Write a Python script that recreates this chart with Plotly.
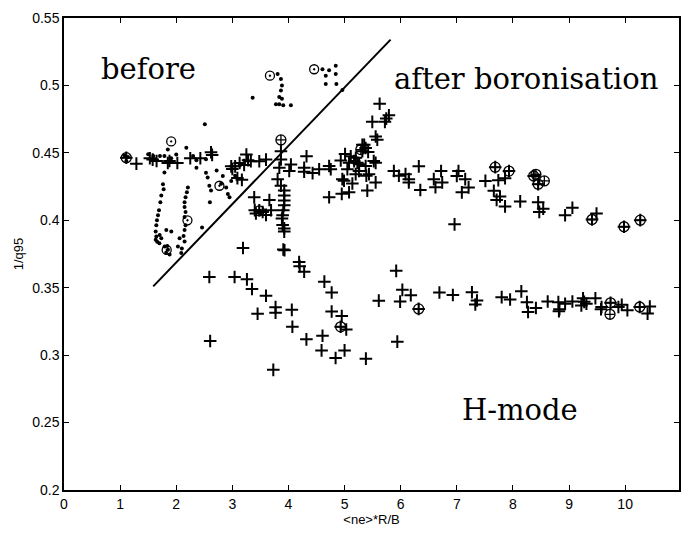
import plotly.graph_objects as go

# ---- data ----
before_x = [1.08, 1.11, 1.14, 1.50, 1.59, 1.71, 1.79, 1.91, 2.00, 2.18, 2.30, 2.36, 2.53, 1.79, 1.85, 2.51,
            1.764, 1.776, 1.734, 1.717, 1.693, 1.675, 1.657, 1.645, 1.634, 1.645, 1.634, 1.705, 1.734, 1.823,
            1.912, 1.793, 1.853, 1.882, 1.82, 1.84, 1.70, 1.66,
            2.208, 2.190, 2.166, 2.149, 2.149, 2.166, 2.149, 2.166, 2.149, 2.131, 2.149, 2.06, 2.03, 2.09, 2.10,
            2.53, 2.56, 2.59, 2.62, 2.83, 2.98, 2.89, 2.92, 2.95, 2.60, 2.46, 2.36, 2.72, 2.80, 3.05,
            3.807, 3.866, 3.884, 3.866, 3.836, 3.884, 3.777, 3.836, 3.907, 4.043, 3.362,
            4.606, 4.724, 4.843, 4.665, 4.843, 4.665, 4.854, 4.961]
before_y = [0.448, 0.444, 0.447, 0.449, 0.4476, 0.4476, 0.4476, 0.446, 0.4488, 0.4537, 0.4476, 0.4445, 0.4452, 0.4355, 0.4525, 0.4712,
            0.4268, 0.4231, 0.4183, 0.4134, 0.4074, 0.4037, 0.4001, 0.3964, 0.3916, 0.3879, 0.3855, 0.3891, 0.3867, 0.3928,
            0.3916, 0.3806, 0.3782, 0.3746, 0.376, 0.381, 0.383, 0.384,
            0.4244, 0.4207, 0.4171, 0.4134, 0.4098, 0.4061, 0.4025, 0.3964, 0.3928, 0.3884, 0.3843, 0.3867, 0.3806, 0.3758, 0.379,
            0.4353, 0.4317, 0.4256, 0.422, 0.4329, 0.4292, 0.4244, 0.4195, 0.4171, 0.4134, 0.3947, 0.439, 0.437, 0.427, 0.433,
            0.5084, 0.5047, 0.4999, 0.4962, 0.4914, 0.4902, 0.486, 0.486, 0.4853, 0.4853, 0.4909,
            0.512, 0.5113, 0.5145, 0.5072, 0.5084, 0.5011, 0.5011, 0.4967]

after_x = [1.29, 1.53, 1.65, 1.85, 2.02, 2.25, 2.43, 2.62, 2.64, 1.11, 1.58, 1.88,
           2.98, 3.05, 3.13, 3.21, 3.25, 3.33, 3.48, 3.60, 3.09, 3.17, 3.00, 3.28,
           3.39, 3.66, 3.48, 3.42, 3.54, 3.69, 3.60, 3.40,
           3.866, 3.866, 3.837, 3.807, 3.866, 3.925, 3.925, 3.925, 3.925, 3.908, 3.896, 3.884, 3.896, 3.925, 3.925, 3.908,
           4.044, 4.014, 4.322, 4.28, 4.28, 4.43, 4.547, 4.725, 4.754, 4.725, 4.932, 5.009, 5.08, 5.05, 4.96, 4.99,
           5.139, 4.95, 5.08, 5.228, 5.257, 5.198, 5.317, 5.376, 5.317, 5.376, 5.435, 5.388, 5.554, 5.554, 5.405,
           5.554, 5.583, 5.494, 5.719, 5.743, 5.79, 5.625, 5.11, 5.20, 5.17, 5.26, 5.52, 5.42, 5.35,
           5.879, 5.968, 6.086, 6.145, 6.145, 6.323, 6.35, 6.59, 6.62, 6.72, 6.74, 6.96, 7.03, 7.00, 7.15, 7.21,
           7.09, 7.51, 7.74, 7.86, 7.66, 7.77, 7.71, 7.86, 8.13, 8.45, 8.54, 8.47, 8.93, 9.06, 9.49, 9.41, 9.98,
           10.27, 7.685, 7.93, 8.37, 8.45,
           4.19, 4.20, 4.28, 4.64, 4.77, 4.77, 4.95, 4.93, 5.03, 4.32, 4.607, 4.59, 4.84, 5.00, 5.38, 4.06, 4.07,
           3.77, 3.77, 3.60, 3.45, 3.35, 3.26, 3.04, 2.59, 2.605, 3.73, 3.19, 3.93,
           5.92, 5.61, 6.03, 6.18, 5.99, 6.32, 5.94, 6.69, 6.93, 7.27, 7.36, 7.33, 7.80, 7.95, 8.15, 8.25, 8.41,
           8.27, 8.62, 8.81, 8.82, 8.93, 9.06, 9.25, 9.22, 9.31, 9.47, 9.58, 9.57, 9.74, 9.88, 9.94, 10.04, 10.26,
           10.40, 10.44, 8.83, 9.27]
after_y = [0.442, 0.446, 0.444, 0.4425, 0.4425, 0.446, 0.446, 0.4505, 0.4485, 0.4464, 0.445, 0.444,
           0.44, 0.44, 0.4425, 0.441, 0.4488, 0.4438, 0.4438, 0.445, 0.4313, 0.43, 0.438, 0.4445,
           0.417, 0.415, 0.4074, 0.405, 0.4061, 0.4074, 0.404, 0.4075,
           0.4512, 0.4451, 0.439, 0.4305, 0.4256, 0.422, 0.4183, 0.4147, 0.4111, 0.4074, 0.4038, 0.4013, 0.3965, 0.394, 0.3916, 0.3783,
           0.4414, 0.4366, 0.4475, 0.439, 0.436, 0.435, 0.4378, 0.4402, 0.4378, 0.4171, 0.4443, 0.4492, 0.4426, 0.4378, 0.4305, 0.4293,
           0.4273, 0.4196, 0.4208, 0.4426, 0.4366, 0.4342, 0.456, 0.4536, 0.4512, 0.4402, 0.4342, 0.433, 0.4426, 0.4281, 0.422,
           0.4621, 0.4597, 0.473, 0.473, 0.4754, 0.4779, 0.4864, 0.4475, 0.4463, 0.4439, 0.4415, 0.4439, 0.4507, 0.456,
           0.4366, 0.433, 0.4342, 0.4305, 0.4281, 0.44, 0.4225, 0.4305, 0.4245, 0.4366, 0.4281, 0.397, 0.4365, 0.4329, 0.4305, 0.4244,
           0.4207, 0.4292, 0.4297, 0.4312, 0.4219, 0.4176, 0.4151, 0.4103, 0.414, 0.4134, 0.4086, 0.4062, 0.4037, 0.4093, 0.405, 0.4006, 0.3952,
           0.4001, 0.4394, 0.4365, 0.4329, 0.4268,
           0.369, 0.366, 0.3618, 0.3545, 0.3465, 0.3324, 0.329, 0.321, 0.319, 0.3117, 0.3144, 0.3035, 0.2979, 0.3035, 0.2974, 0.3336, 0.321,
           0.3356, 0.3314, 0.344, 0.3307, 0.349, 0.3562, 0.358, 0.358, 0.3105, 0.2891, 0.3795, 0.3778,
           0.3625, 0.3404, 0.3484, 0.3445, 0.3397, 0.3343, 0.31, 0.3465, 0.3446, 0.3466, 0.3405, 0.3376, 0.343, 0.3413, 0.3473, 0.3393, 0.335,
           0.332, 0.3398, 0.3393, 0.3325, 0.3381, 0.3398, 0.3422, 0.3369, 0.3381, 0.3422, 0.3357, 0.334, 0.3388, 0.3357, 0.3374, 0.3333, 0.3357,
           0.3308, 0.336, 0.334, 0.3395]

circ_before_x = [1.91, 2.20, 2.77, 1.83, 3.67, 4.458]
circ_before_y = [0.4585, 0.400, 0.4256, 0.378, 0.5072, 0.512]

circ_after_x = [3.866, 3.48, 5.29, 4.93, 6.32, 7.685, 7.93, 8.37, 8.41, 8.45, 8.56, 9.41, 9.98, 10.27, 9.74, 9.73, 10.26, 1.11]
circ_after_y = [0.4596, 0.407, 0.4524, 0.321, 0.3343, 0.4394, 0.4365, 0.4329, 0.4341, 0.4268, 0.4292, 0.4006, 0.3952, 0.4001,
                0.3388, 0.3303, 0.3357, 0.4464]

divider_x = [1.59, 5.82]
divider_y = [0.351, 0.534]

x_ticks = [0, 1, 2, 3, 4, 5, 6, 7, 8, 9, 10]
y_ticks = [0.2, 0.25, 0.3, 0.35, 0.4, 0.45, 0.5, 0.55]
y_tick_text = ["0.2", "0.25", "0.3", "0.35", "0.4", "0.45", "0.5", "0.55"]

fig = go.Figure()
fig.add_trace(go.Scatter(x=divider_x, y=divider_y, mode="lines",
                         line=dict(color="black", width=2), hoverinfo="skip"))
fig.add_trace(go.Scatter(x=before_x, y=before_y, mode="markers",
                         marker=dict(symbol="circle", size=4, color="black")))
fig.add_trace(go.Scatter(x=after_x, y=after_y, mode="markers",
                         marker=dict(symbol="cross-thin-open", size=9, color="black",
                                     line=dict(color="black", width=2))))
fig.add_trace(go.Scatter(x=circ_before_x, y=circ_before_y, mode="markers",
                         marker=dict(symbol="circle-open-dot", size=9, color="black",
                                     line=dict(color="black", width=1.3))))
fig.add_trace(go.Scatter(x=circ_after_x, y=circ_after_y, mode="markers",
                         marker=dict(symbol="circle-cross-open", size=10, color="black",
                                     line=dict(color="black", width=1.3))))

serif = "DejaVu Serif"
fig.add_annotation(x=1.51, y=0.5124, text="before", showarrow=False, xref="x", yref="y",
                   font=dict(family=serif, size=29, color="black"))
fig.add_annotation(x=8.24, y=0.505, text="after boronisation", showarrow=False, xref="x", yref="y",
                   font=dict(family=serif, size=29, color="black"))
fig.add_annotation(x=8.13, y=0.259, text="H-mode", showarrow=False, xref="x", yref="y",
                   font=dict(family=serif, size=29, color="black"))

axis_common = dict(showline=True, linecolor="black", linewidth=1.5, mirror="ticks",
                   ticks="inside", ticklen=5, tickwidth=1.2, tickcolor="black",
                   showgrid=False, zeroline=False,
                   tickfont=dict(family="Liberation Sans", size=14, color="black"))

fig.update_xaxes(range=[0, 10.96], tickvals=x_ticks,
                 title=dict(text="&lt;ne&gt;*R/B", font=dict(family="Liberation Sans", size=13, color="black"),
                            standoff=4),
                 **axis_common)
fig.update_yaxes(range=[0.2, 0.55], tickvals=y_ticks, ticktext=y_tick_text,
                 title=dict(text="1/q95", font=dict(family="Liberation Sans", size=13, color="black"),
                            standoff=6),
                 **axis_common)

fig.update_layout(width=691, height=535, showlegend=False,
                  margin=dict(l=64, r=10, t=15, b=41),
                  paper_bgcolor="white", plot_bgcolor="white")

fig.write_html("out.html")
